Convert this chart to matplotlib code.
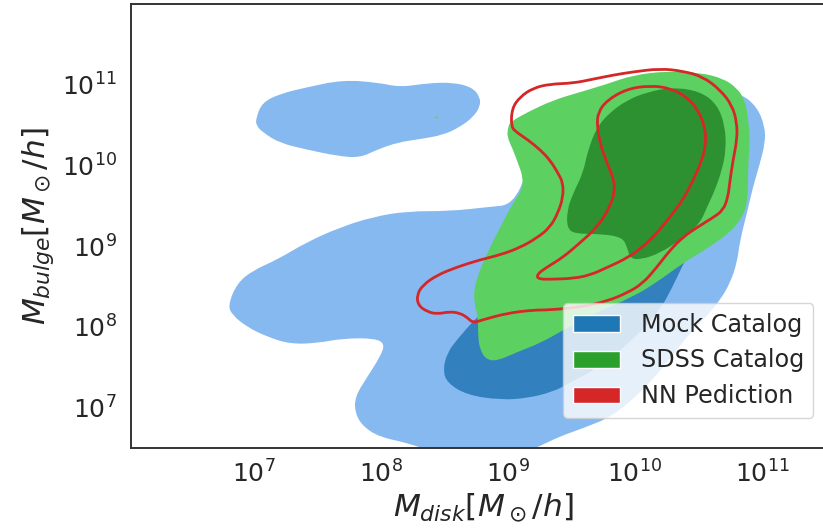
import numpy as np
import matplotlib
matplotlib.use("Agg")
import matplotlib.pyplot as plt
from matplotlib.patches import Patch, PathPatch
from matplotlib.path import Path

# ---------------- data: contour outlines in (log10 M_disk, log10 M_bulge) ----------------
# Mock catalog, outer level (main body)
mock_outer_main_x = [6.795, 6.866, 6.992, 7.181, 7.417, 7.677, 7.937, 8.205, 8.543, 8.835, 9.039,
                     9.157, 9.291, 9.567, 10.039, 10.512, 10.827, 10.961, 11.024, 11.024, 10.984,
                     10.929, 10.882, 10.827, 10.803, 10.748, 10.669, 10.551, 10.433, 10.252, 10.063,
                     9.827, 9.591, 9.409, 9.252, 9.094, 8.701, 8.386, 8.205, 7.992, 7.858, 7.795,
                     7.795, 7.890, 7.992, 8.031, 7.953, 7.701, 7.496, 7.283, 7.102, 6.945, 6.827]
mock_outer_main_y = [8.27, 8.54, 8.70, 8.83, 9.05, 9.23, 9.36, 9.43, 9.43, 9.48, 9.51,
                     9.94, 10.43, 10.74, 10.95, 10.99, 10.89, 10.72, 10.47, 10.27, 10.02,
                     9.73, 9.41, 9.07, 8.79, 8.54, 8.33, 8.11, 7.93, 7.56, 7.22,
                     6.90, 6.75, 6.65, 6.53, 6.43, 6.41, 6.47, 6.57, 6.64, 6.77, 6.94,
                     7.14, 7.38, 7.63, 7.79, 7.86, 7.86, 7.80, 7.79, 7.88, 8.00, 8.15]
# Mock catalog, outer level (upper island)
mock_outer_island_x = [7.016, 7.063, 7.205, 7.417, 7.693, 7.969, 8.150, 8.362, 8.567, 8.717, 8.780,
                       8.780, 8.724, 8.622, 8.488, 8.307, 8.134, 7.969, 7.835, 7.661, 7.417, 7.205,
                       7.071, 7.016]
mock_outer_island_y = [10.58, 10.77, 10.88, 10.96, 11.05, 11.02, 10.96, 11.01, 11.02, 10.96, 10.84,
                       10.72, 10.59, 10.47, 10.37, 10.32, 10.28, 10.19, 10.09, 10.11, 10.19, 10.27,
                       10.40, 10.49]
# Mock catalog, inner level
mock_inner_x = [8.748, 8.606, 8.520, 8.488, 8.520, 8.677, 8.937, 9.150, 9.354, 9.488, 9.724, 9.984,
                10.197, 10.291, 10.378, 10.433, 10.276, 9.882, 9.409, 8.937]
mock_inner_y = [8.11, 7.86, 7.68, 7.47, 7.31, 7.16, 7.10, 7.12, 7.20, 7.31, 7.51, 7.84,
                8.21, 8.48, 8.77, 8.93, 9.07, 8.95, 8.70, 8.40]
# SDSS catalog, outer level
sdss_outer_x = [9.016, 9.150, 9.354, 9.567, 9.780, 9.984, 10.252, 10.512, 10.693, 10.803, 10.866,
                10.890, 10.906, 10.890, 10.890, 10.866, 10.772, 10.591, 10.378, 10.197, 9.984,
                9.677, 9.433, 9.252, 9.071, 8.913, 8.827, 8.780, 8.764, 8.764, 8.724, 8.756,
                8.835, 8.937, 9.039, 9.110, 9.118, 9.079, 9.039, 8.992, 9.000]
sdss_outer_y = [10.53, 10.65, 10.80, 10.90, 11.00, 11.11, 11.16, 11.14, 11.07, 10.95, 10.80,
                10.59, 10.31, 9.98, 9.65, 9.41, 9.20, 8.99, 8.79, 8.58, 8.37,
                8.17, 7.96, 7.80, 7.69, 7.58, 7.60, 7.72, 7.88, 8.12, 8.37, 8.62,
                8.91, 9.23, 9.53, 9.69, 9.85, 10.02, 10.19, 10.35, 10.46]
# SDSS catalog, tiny isolated outer-level speck
sdss_speck_x = [8.433]
sdss_speck_y = [10.59]
# SDSS catalog, inner level
sdss_inner_x = [9.465, 9.512, 9.591, 9.630, 9.701, 9.803, 9.937, 10.094, 10.299, 10.512, 10.646,
                10.709, 10.717, 10.685, 10.630, 10.567, 10.512, 10.378, 10.197, 10.039, 9.961,
                9.937, 9.898, 9.724, 9.528, 9.465]
sdss_inner_y = [9.44, 9.65, 9.90, 10.19, 10.47, 10.65, 10.80, 10.90, 10.96, 10.91, 10.75,
                10.49, 10.19, 9.94, 9.69, 9.48, 9.28, 9.10, 8.91, 8.83, 8.85,
                8.99, 9.11, 9.15, 9.15, 9.22]
# NN prediction, outer level
nn_outer_x = [9.024, 9.031, 9.094, 9.197, 9.331, 9.512, 9.669, 9.827, 9.984, 10.197, 10.378,
              10.535, 10.669, 10.764, 10.803, 10.803, 10.772, 10.748, 10.732, 10.693, 10.614,
              10.488, 10.378, 10.276, 10.173, 10.063, 9.937, 9.780, 9.591, 9.331, 9.197,
              8.992, 8.803, 8.724, 8.677, 8.622, 8.543, 8.441, 8.362, 8.291, 8.283, 8.331,
              8.441, 8.598, 8.780, 8.937, 9.094, 9.228, 9.331, 9.394, 9.433, 9.433, 9.394,
              9.331, 9.252, 9.157, 9.071]
nn_outer_y = [10.47, 10.70, 10.84, 10.95, 11.00, 11.01, 11.06, 11.11, 11.15, 11.19, 11.16,
              11.09, 10.93, 10.74, 10.52, 10.31, 10.06, 9.81, 9.60, 9.44, 9.35,
              9.23, 9.11, 8.95, 8.74, 8.54, 8.42, 8.32, 8.25, 8.21, 8.21,
              8.17, 8.09, 8.05, 8.12, 8.17, 8.19, 8.16, 8.19, 8.27, 8.40, 8.52,
              8.64, 8.74, 8.83, 8.89, 8.98, 9.10, 9.23, 9.41, 9.60, 9.78, 9.90,
              10.06, 10.19, 10.31, 10.40]
# NN prediction, inner level
nn_inner_x = [9.709, 9.780, 9.937, 10.118, 10.276, 10.409, 10.496, 10.551, 10.559, 10.528, 10.457,
              10.378, 10.276, 10.173, 10.063, 9.937, 9.787, 9.646, 9.512, 9.354, 9.236,
              9.228, 9.307, 9.433, 9.567, 9.701, 9.803, 9.843, 9.827, 9.780, 9.724, 9.701]
nn_inner_y = [10.65, 10.80, 10.94, 10.98, 10.95, 10.84, 10.68, 10.47, 10.27, 10.06, 9.81,
              9.57, 9.36, 9.16, 8.99, 8.85, 8.74, 8.64, 8.60, 8.59, 8.59,
              8.65, 8.74, 8.86, 9.04, 9.23, 9.48, 9.69, 9.85, 10.02, 10.27, 10.49]

legend_labels = ["Mock Catalog", "SDSS Catalog", "NN Pediction"]
x_label = r"$M_{disk}[M_\odot/h]$"
y_label = r"$M_{bulge}[M_\odot/h]$"
x_limits_log = (6.031, 11.575)
y_limits_log = (6.506, 11.988)

# ---------------- styling ----------------
TEXT = "#262626"
plt.rcParams["font.family"] = ["DejaVu Sans"]
plt.rcParams["mathtext.fontset"] = "dejavusans"

fig = plt.figure(figsize=(8.23, 5.28), dpi=100)
ax = fig.add_axes([131 / 823, 80 / 528, 704 / 823, 444 / 528])
ax.set_xscale("log")
ax.set_yscale("log")
ax.set_xlim(10 ** x_limits_log[0], 10 ** x_limits_log[1])
ax.set_ylim(10 ** y_limits_log[0], 10 ** y_limits_log[1])


def smooth_closed_path(lx, ly):
    """Closed outline drawn by matplotlib as quadratic Bezier curves:
    the listed vertices act as control points (in log space, mapped to data)."""
    p = np.column_stack([np.asarray(lx, float), np.asarray(ly, float)])
    n = len(p)
    mids = 0.5 * (p + np.roll(p, -1, axis=0))
    verts = [mids[-1]]
    codes = [Path.MOVETO]
    for i in range(n):
        verts += [p[i], mids[i]]
        codes += [Path.CURVE3, Path.CURVE3]
    verts = 10.0 ** np.array(verts)
    return Path(verts, codes)


c_mock_outer = "#86b9f0"
c_mock_inner = "#3380be"
c_sdss_outer = "#5cd162"
c_sdss_inner = "#2e9131"
c_nn = "#d62728"

for (lx, ly, col) in [(mock_outer_main_x, mock_outer_main_y, c_mock_outer),
                      (mock_outer_island_x, mock_outer_island_y, c_mock_outer),
                      (mock_inner_x, mock_inner_y, c_mock_inner),
                      (sdss_outer_x, sdss_outer_y, c_sdss_outer),
                      (sdss_inner_x, sdss_inner_y, c_sdss_inner)]:
    ax.add_patch(PathPatch(smooth_closed_path(lx, ly), facecolor=col, edgecolor="none", lw=0))

ax.plot(10.0 ** np.array(sdss_speck_x), 10.0 ** np.array(sdss_speck_y), "o",
        color=c_sdss_outer, ms=1.6, mew=0)

for (lx, ly) in [(nn_outer_x, nn_outer_y), (nn_inner_x, nn_inner_y)]:
    ax.add_patch(PathPatch(smooth_closed_path(lx, ly), facecolor="none", edgecolor=c_nn,
                           lw=2.0, joinstyle="round"))

ax.minorticks_off()
ax.tick_params(axis="both", which="both", length=0, labelsize=18, colors=TEXT)
ax.tick_params(axis="x", pad=9)
ax.tick_params(axis="y", pad=10)

for s in ax.spines.values():
    s.set_color("#333333")
    s.set_linewidth(1.4)

ax.set_xlabel(x_label, fontsize=22.5, color=TEXT, labelpad=3)
ax.set_ylabel(y_label, fontsize=22.5, color=TEXT, labelpad=4)

handles = [Patch(facecolor="#1f77b4", edgecolor="white"),
           Patch(facecolor="#2ca02c", edgecolor="white"),
           Patch(facecolor="#d62728", edgecolor="white")]
leg = ax.legend(handles, legend_labels, loc="upper left",
                bbox_to_anchor=(563 / 823, 1 - 303 / 528), bbox_transform=fig.transFigure,
                borderaxespad=0, fontsize=17.2, framealpha=0.8, edgecolor="#cccccc",
                fancybox=True, handletextpad=0.85)
for t in leg.get_texts():
    t.set_color(TEXT)

fig.savefig("out.png", dpi=100)
